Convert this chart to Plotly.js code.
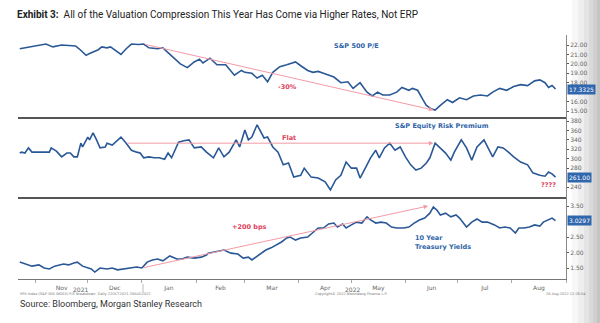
<!DOCTYPE html>
<html><head><meta charset="utf-8">
<script src="https://cdn.plot.ly/plotly-3.0.1.min.js"></script>
<style>html,body{margin:0;padding:0;background:#fff;} #chart{width:600px;height:323px;}</style>
</head><body><div id="chart"></div>
<script>
// ---------- DATA ----------
const peDates = ['2021-10-23','2021-10-26','2021-10-30','2021-11-03','2021-11-07','2021-11-11','2021-11-14','2021-11-16','2021-11-20','2021-11-24','2021-11-26','2021-11-28','2021-11-30','2021-12-02','2021-12-05','2021-12-07','2021-12-09','2021-12-12','2021-12-14','2021-12-16','2021-12-18','2021-12-20','2021-12-23','2021-12-26','2021-12-30','2022-01-02','2022-01-05','2022-01-08','2022-01-10','2022-01-13','2022-01-16','2022-01-19','2022-01-23','2022-01-27','2022-01-31','2022-02-03','2022-02-05','2022-02-09','2022-02-13','2022-02-18','2022-02-23','2022-02-27','2022-03-01','2022-03-05','2022-03-08','2022-03-11','2022-03-14','2022-03-17','2022-03-21','2022-03-25','2022-03-30','2022-04-02','2022-04-06','2022-04-09','2022-04-12','2022-04-15','2022-04-18','2022-04-21','2022-04-25','2022-04-29','2022-05-02','2022-05-06','2022-05-10','2022-05-13','2022-05-16','2022-05-19','2022-05-23','2022-05-27','2022-05-30','2022-06-03','2022-06-05','2022-06-08','2022-06-11','2022-06-13','2022-06-16','2022-06-18','2022-06-21','2022-06-25','2022-06-28','2022-07-02','2022-07-06','2022-07-10','2022-07-14','2022-07-18','2022-07-21','2022-07-25','2022-07-29','2022-08-02','2022-08-06','2022-08-10','2022-08-14','2022-08-17','2022-08-20','2022-08-22','2022-08-24','2022-08-26'];
const peValues = [21.6,21.7,21.9,22.0,22.1,21.8,21.9,22.0,21.95,21.9,21.6,21.2,20.9,21.1,21.3,21.5,21.8,21.7,21.8,21.5,21.2,21.0,21.6,22.1,22.05,22.1,21.7,21.65,21.6,21.7,21.2,20.6,20.0,19.6,20.2,20.5,20.1,20.6,19.9,19.9,18.8,19.3,19.1,19.0,18.5,18.8,18.1,19.1,19.7,19.9,20.2,19.8,19.3,19.1,19.2,19.0,18.8,18.6,18.0,18.1,17.4,18.0,17.0,16.6,17.0,16.7,16.7,17.0,17.5,17.2,17.4,17.2,16.2,15.6,15.2,15.1,15.6,16.2,15.9,16.4,16.2,16.6,16.7,16.6,17.0,17.4,17.2,17.6,17.8,17.7,18.2,18.3,18.0,17.5,17.7,17.3325];

const erpDates = ['2021-10-23','2021-10-24','2021-10-26','2021-10-28','2021-10-30','2021-11-03','2021-11-09','2021-11-10','2021-11-13','2021-11-16','2021-11-19','2021-11-21','2021-11-23','2021-11-25','2021-11-27','2021-11-28','2021-12-01','2021-12-02','2021-12-04','2021-12-06','2021-12-08','2021-12-11','2021-12-12','2021-12-15','2021-12-18','2021-12-20','2021-12-23','2021-12-26','2021-12-29','2021-12-31','2022-01-02','2022-01-05','2022-01-08','2022-01-11','2022-01-14','2022-01-16','2022-01-18','2022-01-22','2022-01-25','2022-01-28','2022-01-31','2022-02-04','2022-02-07','2022-02-11','2022-02-14','2022-02-17','2022-02-20','2022-02-23','2022-02-24','2022-02-26','2022-03-01','2022-03-03','2022-03-05','2022-03-08','2022-03-10','2022-03-12','2022-03-14','2022-03-17','2022-03-20','2022-03-23','2022-03-26','2022-03-29','2022-04-02','2022-04-04','2022-04-08','2022-04-12','2022-04-16','2022-04-19','2022-04-22','2022-04-25','2022-04-28','2022-05-01','2022-05-04','2022-05-06','2022-05-09','2022-05-12','2022-05-15','2022-05-17','2022-05-20','2022-05-23','2022-05-26','2022-05-29','2022-06-01','2022-06-04','2022-06-07','2022-06-10','2022-06-13','2022-06-15','2022-06-18','2022-06-21','2022-06-24','2022-06-27','2022-06-29','2022-07-03','2022-07-06','2022-07-09','2022-07-12','2022-07-16','2022-07-18','2022-07-21','2022-07-24','2022-07-27','2022-07-30','2022-08-02','2022-08-06','2022-08-10','2022-08-13','2022-08-17','2022-08-20','2022-08-22','2022-08-24','2022-08-26'];
const erpValues = [312,314,312,323,314,314,314,323,316,304,312,312,304,304,333,325,346,340,355,340,323,325,333,329,340,346,333,318,314,312,302,304,302,302,299,312,302,335,338,340,323,325,314,302,323,304,314,335,340,325,361,340,346,372,357,344,346,325,314,287,291,261,265,280,261,259,251,234,255,265,293,280,280,259,280,302,318,302,323,333,318,325,304,287,276,280,291,302,333,323,312,297,314,340,323,297,325,340,325,304,325,323,314,304,293,287,270,265,263,272,268,261];

const ustDates = ['2021-10-23','2021-10-26','2021-10-30','2021-11-03','2021-11-06','2021-11-09','2021-11-12','2021-11-17','2021-11-20','2021-11-23','2021-11-25','2021-11-28','2021-12-01','2021-12-03','2021-12-05','2021-12-08','2021-12-12','2021-12-15','2021-12-18','2021-12-21','2021-12-25','2021-12-29','2022-01-01','2022-01-04','2022-01-07','2022-01-10','2022-01-13','2022-01-17','2022-01-21','2022-01-24','2022-01-27','2022-01-31','2022-02-04','2022-02-07','2022-02-08','2022-02-11','2022-02-14','2022-02-17','2022-02-21','2022-02-25','2022-02-28','2022-03-03','2022-03-05','2022-03-09','2022-03-13','2022-03-16','2022-03-19','2022-03-22','2022-03-25','2022-03-27','2022-03-30','2022-04-02','2022-04-06','2022-04-09','2022-04-12','2022-04-15','2022-04-18','2022-04-21','2022-04-23','2022-04-26','2022-04-28','2022-05-01','2022-05-04','2022-05-07','2022-05-10','2022-05-12','2022-05-15','2022-05-18','2022-05-21','2022-05-24','2022-05-27','2022-05-31','2022-06-03','2022-06-06','2022-06-09','2022-06-12','2022-06-15','2022-06-17','2022-06-19','2022-06-21','2022-06-24','2022-06-27','2022-06-30','2022-07-02','2022-07-06','2022-07-09','2022-07-12','2022-07-15','2022-07-18','2022-07-22','2022-07-25','2022-07-28','2022-07-31','2022-08-03','2022-08-05','2022-08-08','2022-08-11','2022-08-14','2022-08-17','2022-08-19','2022-08-22','2022-08-24','2022-08-26'];
const ustValues = [1.69,1.63,1.56,1.60,1.50,1.47,1.56,1.63,1.60,1.66,1.69,1.56,1.50,1.47,1.37,1.50,1.47,1.50,1.44,1.47,1.50,1.53,1.50,1.69,1.76,1.79,1.73,1.89,1.79,1.79,1.85,1.82,1.85,1.92,1.98,2.02,2.05,2.08,1.98,1.95,1.82,1.85,1.76,1.92,2.08,2.15,2.24,2.34,2.47,2.50,2.40,2.47,2.50,2.63,2.79,2.79,2.92,2.95,2.82,2.92,2.79,2.89,2.98,2.95,3.15,3.05,2.95,2.98,2.95,2.82,2.79,2.79,2.82,2.95,3.05,3.11,3.27,3.47,3.37,3.21,3.27,3.15,3.21,3.11,2.82,2.98,3.08,2.98,2.98,2.89,2.79,2.82,2.79,2.63,2.79,2.79,2.82,2.89,2.85,2.98,3.05,3.11,3.0297];

// trend arrows (start, end)
const peTrendDates = ['2022-01-02','2022-06-17'];
const peTrendValues = [22.1, 15.1];
const erpTrendDates = ['2021-12-23','2022-06-17'];
const erpTrendValues = [333, 333];
const ustTrendDates = ['2022-01-01','2022-06-14'];
const ustTrendValues = [1.50, 3.50];

// tick labels (values hidden behind the last-value boxes are not labelled)
const peTicks = [15,16,18,19,20,21,22];
const erpTicks = [240,280,300,320,340,360,380];
const ustTicks = [1.5,2.0,2.5,3.5];
const monthTick0 = '2021-11-01';
const yearLabels = ['2021','2022'];

// ---------- LAYOUT HELPERS ----------
const L = 18, R = 566, T = 35, B = 279;
const px = p => (p - L) / (R - L);
const py = p => (B - p) / (B - T);

const lineColor = '#2a5896';
const pink = '#f29aa6';
const red = '#e0435c';
const blueText = '#2f64a6';
const tickFont = {family: 'DejaVu Sans', size: 6, color: '#666'};

const traces = [
  {x: peDates, y: peValues, xaxis: 'x', yaxis: 'y3', mode: 'lines', line: {color: lineColor, width: 1.6}, hoverinfo: 'skip'},
  {x: erpDates, y: erpValues, xaxis: 'x', yaxis: 'y2', mode: 'lines', line: {color: lineColor, width: 1.6}, hoverinfo: 'skip'},
  {x: ustDates, y: ustValues, xaxis: 'x', yaxis: 'y', mode: 'lines', line: {color: lineColor, width: 1.6}, hoverinfo: 'skip'}
];

function yax(domain, range, ticks, fmt) {
  return {domain: domain, range: range, side: 'right', anchor: 'x', tickvals: ticks, tickformat: fmt,
    showgrid: false, zeroline: false, showline: true, linecolor: '#888', linewidth: 1,
    ticks: 'outside', ticklen: 2, tickcolor: '#555', tickfont: tickFont, automargin: false, fixedrange: true};
}

const ann = [];
function txt(text, x, y, opts) {
  ann.push(Object.assign({text: text, xref: 'paper', yref: 'paper', x: px(x), y: py(y), showarrow: false,
    xanchor: 'center', yanchor: 'middle'}, opts || {}));
}
// title & footers
txt('<b>Exhibit 3:</b>&nbsp; All of the Valuation Compression This Year Has Come via Higher Rates, Not ERP', 15, 15,
  {xanchor: 'left', font: {family: 'Roboto', size: 10, color: '#222'}});
txt('Source: Bloomberg, Morgan Stanley Research', 18, 304, {xanchor: 'left', font: {family: 'Roboto', size: 9, color: '#333'}});
txt('SPX Index (S&P 500 INDEX) P/E Breakdown  Daily 22OCT2021-26AUG2022', 18, 294, {xanchor: 'left', font: {family: 'DejaVu Sans', size: 3.5, color: '#777'}});
txt('Copyright\u00a9 2022 Bloomberg Finance L.P.', 313, 294, {xanchor: 'left', font: {family: 'DejaVu Sans', size: 3.5, color: '#777'}});
txt('26-Aug-2022 12:28:04', 588, 294, {xanchor: 'right', font: {family: 'DejaVu Sans', size: 3.5, color: '#777'}});
txt(yearLabels[0], 80, 289, {font: tickFont});
txt(yearLabels[1], 353, 289, {font: tickFont});
// panel labels
const lblFont = {family: 'DejaVu Sans', size: 6.5, color: blueText};
const redFont = {family: 'DejaVu Sans', size: 6.5, color: red};
txt('<b>S&P 500 P/E</b>', 356, 46, {font: lblFont});
txt('<b>-30%</b>', 287, 87, {font: redFont});
txt('<b>S&P Equity Risk Premium</b>', 442, 126, {font: lblFont});
txt('<b>Flat</b>', 289, 138, {font: redFont});
txt('<b>????</b>', 548, 185, {font: redFont});
txt('<b>+200 bps</b>', 249, 227, {font: redFont});
txt('<b>10 Year</b>', 413, 238, {xanchor: 'left', font: lblFont});
txt('<b>Treasury Yields</b>', 413, 247, {xanchor: 'left', font: lblFont});

// trend arrows
function arrow(d, v, yref) {
  ann.push({x: d[1], y: v[1], ax: d[0], ay: v[0], xref: 'x', yref: yref, axref: 'x', ayref: yref,
    showarrow: true, arrowhead: 2, arrowsize: 0.9, arrowwidth: 1, arrowcolor: pink, standoff: 0, text: ''});
}
arrow(peTrendDates, peTrendValues, 'y3');
arrow(erpTrendDates, erpTrendValues, 'y2');
arrow(ustTrendDates, ustTrendValues, 'y');

// last value boxes
function lastBox(vals, yref, str) {
  ann.push({text: str, xref: 'paper', yref: yref, x: 1, y: vals[vals.length - 1], xanchor: 'left', yanchor: 'middle',
    xshift: 1, showarrow: false, bgcolor: '#2f66ad', borderpad: 1,
    font: {family: 'DejaVu Sans', size: 6, color: '#fff'}});
}
lastBox(peValues, 'y3', String(peValues[peValues.length - 1]));
lastBox(erpValues, 'y2', erpValues[erpValues.length - 1].toFixed(2));
lastBox(ustValues, 'y', String(ustValues[ustValues.length - 1]));

const shapes = [];
// edge shading (photo)
[[572,578,'#f7f7f7'],[578,584,'#eeeeee'],[584,589,'#e4e4e4'],[589,593,'#d9d9d9'],[593,597,'#cfcfcf'],[597,600,'#c4c4c4']].forEach(s => {
  shapes.push({type: 'rect', xref: 'paper', yref: 'paper', x0: px(s[0]), x1: px(s[1]), y0: py(323), y1: py(0),
    fillcolor: s[2], line: {width: 0}, layer: 'below'});
});
// panel separators
[118, 198].forEach(y => shapes.push({type: 'line', xref: 'paper', yref: 'paper', x0: 0, x1: 1, y0: py(y), y1: py(y),
  line: {color: '#555', width: 2}}));
// year separator
shapes.push({type: 'line', xref: 'paper', yref: 'paper', x0: px(143), x1: px(143), y0: py(284), y1: py(292), line: {color: '#bbb', width: 1}});

const layout = {
  width: 600, height: 323, margin: {l: L, r: 600 - R, t: T, b: 323 - B},
  paper_bgcolor: '#fff', plot_bgcolor: 'rgba(0,0,0,0)', showlegend: false,
  xaxis: {type: 'date', range: ['2021-10-22', '2022-09-01'], anchor: 'y', tick0: monthTick0, dtick: 'M1',
    ticklabelmode: 'period', tickformat: '%b', ticks: 'outside', ticklen: 3, tickcolor: '#aaa',
    showline: true, linecolor: '#777', linewidth: 1, showgrid: false, zeroline: false,
    tickfont: tickFont, automargin: false, fixedrange: true},
  yaxis: yax([0, py(198)], [1.145, 3.758], ustTicks, '.2f'),
  yaxis2: yax([py(198), py(118)], [216.7, 386.4], erpTicks, 'd'),
  yaxis3: yax([py(118), 1], [14.26, 23.06], peTicks, '.2f'),
  annotations: ann, shapes: shapes
};
layout.yaxis2.tickformat = '';
Plotly.newPlot('chart', traces, layout, {staticPlot: true, displayModeBar: false});
</script></body></html>
